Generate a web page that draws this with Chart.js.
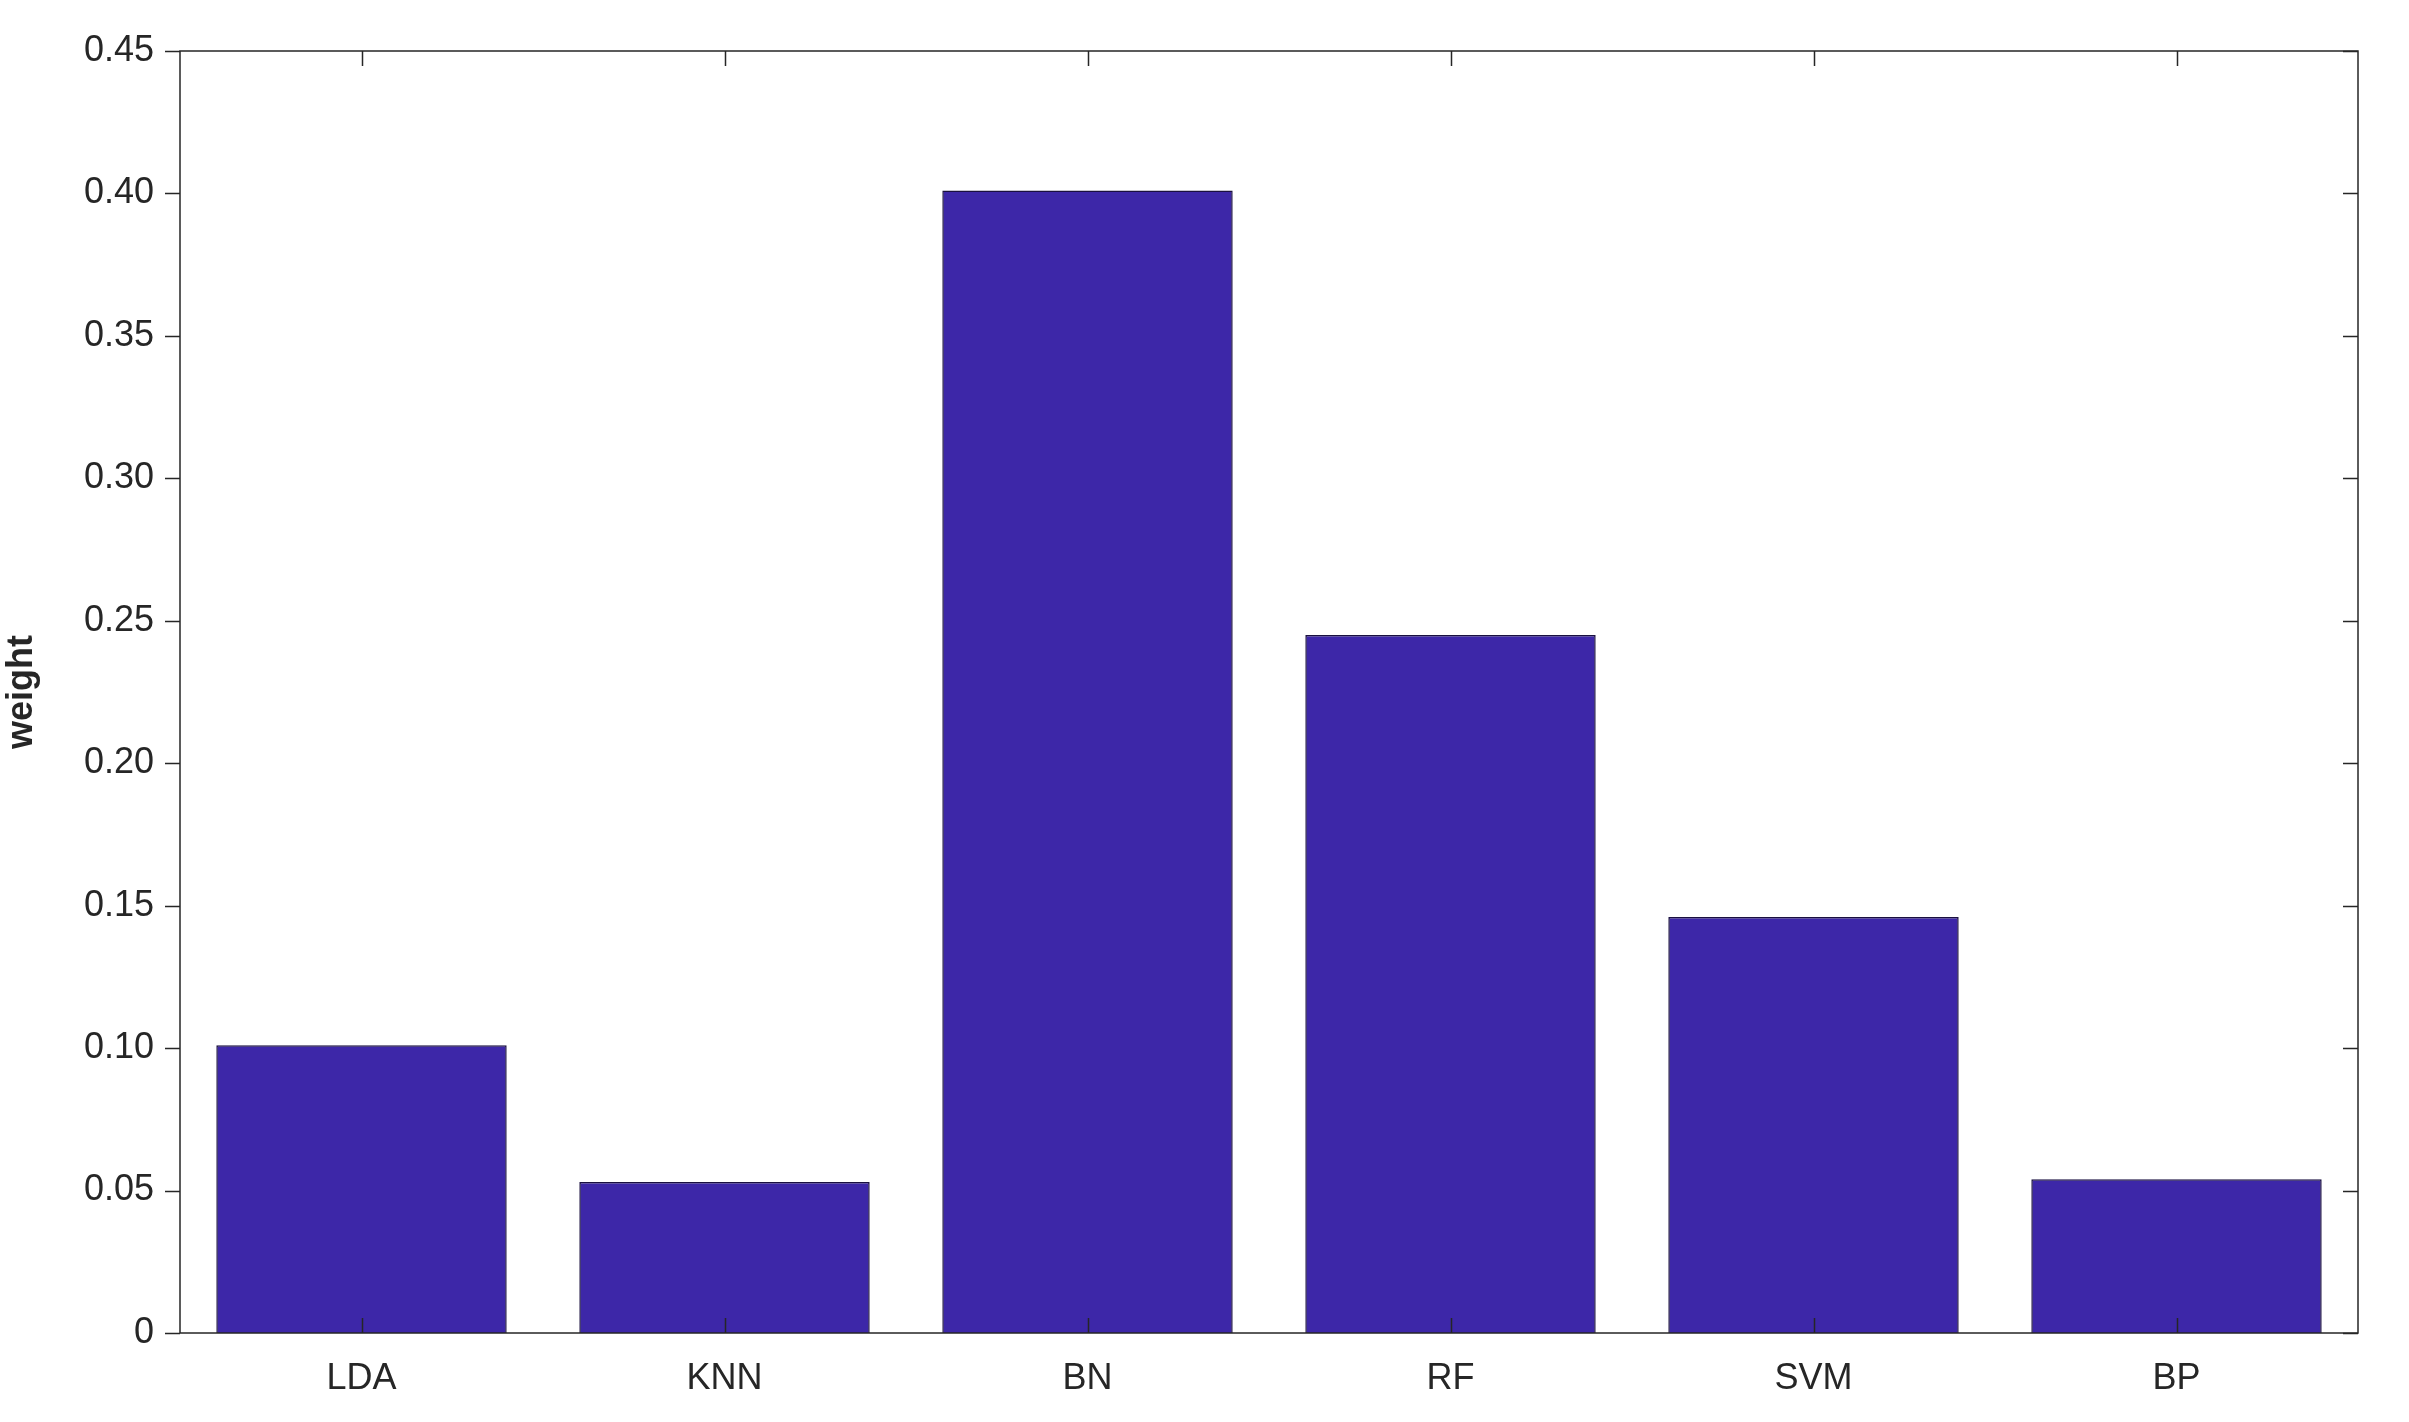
<!DOCTYPE html>
<html lang="en">
<head>
<meta charset="UTF-8">
<title>weight</title>
<style>
    body { margin: 0; background: #fff; }
    canvas { display: block; }
</style>
<script src="https://cdn.jsdelivr.net/npm/chart.js"></script>
</head>
<body>
<canvas id="chart" width="2409" height="1422"></canvas>
<script>
    const methods = ['LDA', 'KNN', 'BN', 'RF', 'SVM', 'BP'];
    const weights = [0.101, 0.053, 0.401, 0.245, 0.146, 0.054];
    const yTicks = [0, 0.05, 0.1, 0.15, 0.2, 0.25, 0.3, 0.35, 0.4, 0.45];

    // box around the plot plus inward ticks on all four sides (matlab style)
    const boxTicks = {
        id: 'boxTicks',
        afterDraw(chart) {
            const { ctx, chartArea: a, scales: { x, y } } = chart;
            const len = 15;
            ctx.save();
            ctx.strokeStyle = '#262626';
            ctx.lineWidth = 1.5;
            ctx.strokeRect(a.left, a.top, a.right - a.left, a.bottom - a.top);
            ctx.beginPath();
            yTicks.forEach(v => {
                const py = Math.round(y.getPixelForValue(v)) + 0.5;
                ctx.moveTo(a.left, py); ctx.lineTo(a.left - len, py);
                ctx.moveTo(a.right, py); ctx.lineTo(a.right - len, py);
            });
            methods.forEach((m, i) => {
                const px = Math.round(x.getPixelForValue(i)) + 0.5;
                ctx.moveTo(px, a.bottom); ctx.lineTo(px, a.bottom - len);
                ctx.moveTo(px, a.top); ctx.lineTo(px, a.top + len);
            });
            ctx.stroke();
            ctx.restore();
        }
    };

    new Chart(document.getElementById('chart'), {
        type: 'bar',
        data: {
            labels: methods,
            datasets: [{
                data: weights,
                backgroundColor: '#3D27A8',
                borderColor: '#1a1040',
                borderWidth: 1.5,
                categoryPercentage: 1,
                barPercentage: 0.8
            }]
        },
        options: {
            responsive: false,
            devicePixelRatio: 1,
            animation: false,
            layout: { padding: { top: 51, right: 51, left: 0, bottom: 0 } },
            plugins: { legend: { display: false }, tooltip: { enabled: false } },
            scales: {
                x: {
                    grid: { display: false },
                    border: { display: false },
                    ticks: { color: '#262626', padding: 16, font: { family: 'Liberation Sans', size: 36 } },
                    afterFit(s) { s.height = 89; }
                },
                y: {
                    min: 0, max: 0.45,
                    afterBuildTicks(s) { s.ticks = yTicks.map(v => ({ value: v })); },
                    grid: { display: false },
                    border: { display: false },
                    ticks: { color: '#262626', padding: 18, font: { family: 'Liberation Sans', size: 36 } },
                    title: {
                        display: true, text: 'weight', color: '#262626', padding: 0,
                        font: { family: 'Liberation Sans', size: 36, weight: 'bold' }
                    },
                    afterFit(s) { s.width = 180; }
                }
            }
        },
        plugins: [boxTicks]
    });
</script>
</body>
</html>
